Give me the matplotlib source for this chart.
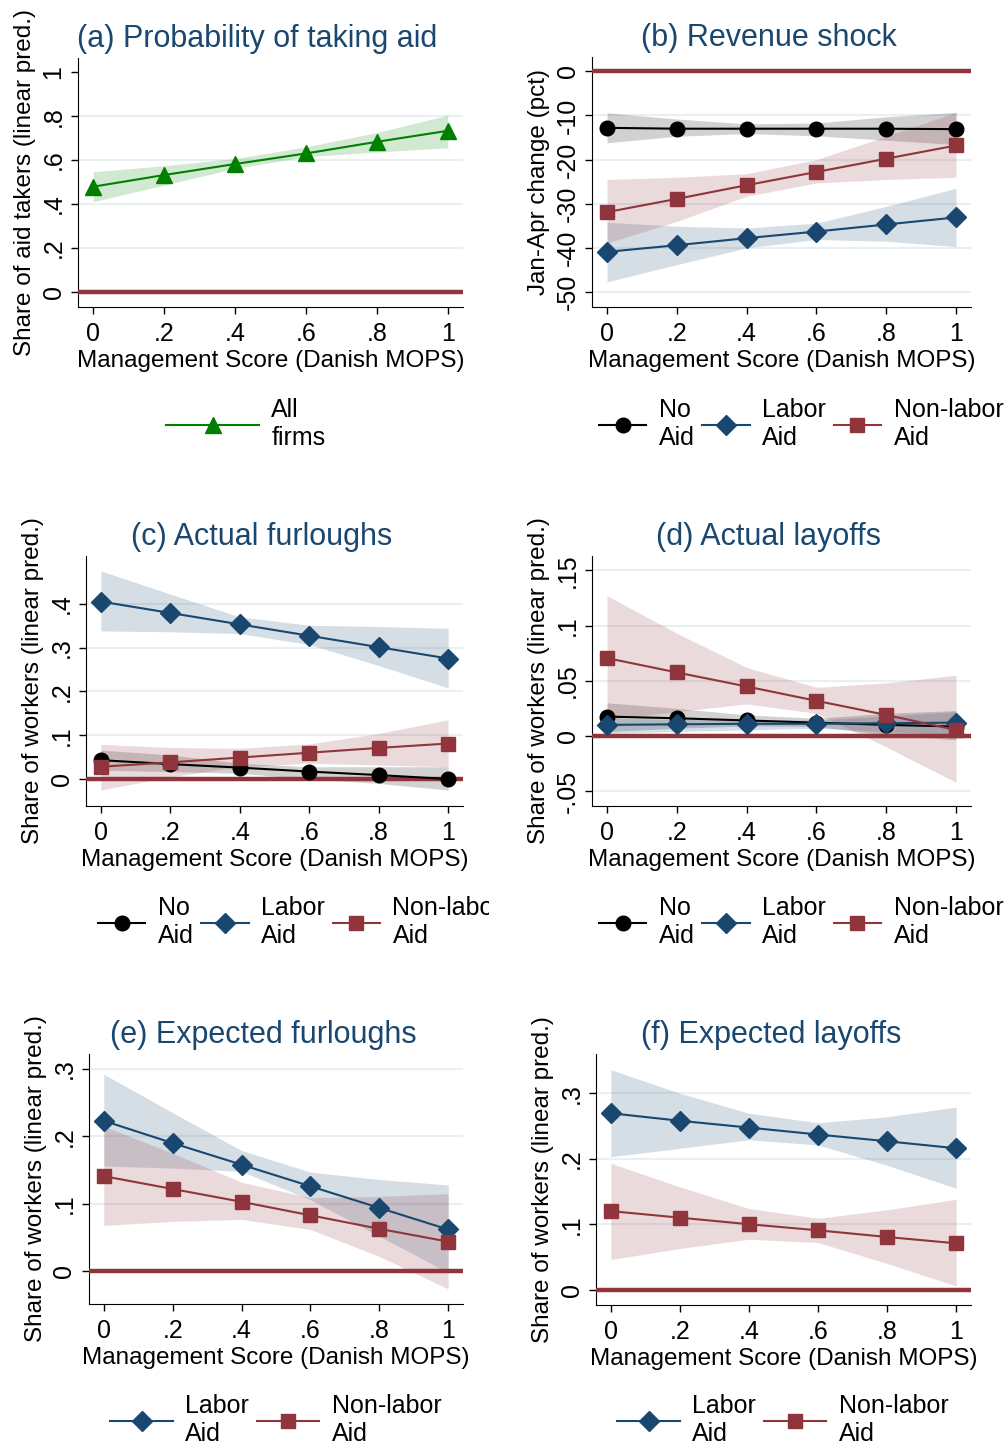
import matplotlib
matplotlib.use("Agg")
import matplotlib.pyplot as plt
from matplotlib.transforms import Bbox, TransformedBbox

plt.rcParams['font.family'] = ['Liberation Sans', 'DejaVu Sans']

# === DATOS ===
score = [0, .2, .4, .6, .8, 1]
score_labels = ["0", ".2", ".4", ".6", ".8", "1"]

# (a) Probability of taking aid
a_all = [0.479, 0.532, 0.582, 0.630, 0.683, 0.733]
a_all_lo = [0.411, 0.486, 0.562, 0.615, 0.637, 0.656]
a_all_hi = [0.547, 0.574, 0.607, 0.660, 0.725, 0.804]

# (b) Revenue shock
b_no = [-12.8, -13.0, -13.0, -13.0, -13.0, -13.1]
b_no_lo = [-16.2, -14.7, -14.1, -14.6, -15.6, -16.6]
b_no_hi = [-9.4, -10.8, -11.9, -11.7, -10.3, -9.3]
b_lab = [-40.9, -39.4, -37.8, -36.3, -34.7, -33.1]
b_lab_lo = [-47.7, -43.8, -40.0, -38.1, -38.5, -39.7]
b_lab_hi = [-34.2, -35.1, -35.5, -34.4, -30.6, -26.5]
b_non = [-31.9, -28.9, -25.8, -22.8, -19.8, -16.8]
b_non_lo = [-38.9, -34.0, -28.3, -25.3, -24.5, -24.0]
b_non_hi = [-24.5, -24.0, -23.2, -20.0, -14.7, -9.3]

# (c) Actual furloughs
c_no = [0.043, 0.034, 0.026, 0.017, 0.009, 0.000]
c_no_lo = [0.020, 0.017, 0.013, 0.000, -0.010, -0.025]
c_no_hi = [0.066, 0.055, 0.036, 0.028, 0.028, 0.028]
c_lab = [0.405, 0.379, 0.353, 0.327, 0.301, 0.275]
c_lab_lo = [0.338, 0.336, 0.332, 0.307, 0.259, 0.208]
c_lab_hi = [0.475, 0.422, 0.370, 0.351, 0.348, 0.344]
c_non = [0.028, 0.038, 0.049, 0.060, 0.071, 0.081]
c_non_lo = [-0.025, 0.005, 0.028, 0.036, 0.032, 0.028]
c_non_hi = [0.079, 0.072, 0.070, 0.080, 0.104, 0.135]

# (d) Actual layoffs
d_no = [0.0175, 0.016, 0.014, 0.012, 0.010, 0.0085]
d_no_lo = [0.004, 0.007, 0.009, 0.0085, 0.001, -0.0036]
d_no_hi = [0.030, 0.025, 0.019, 0.016, 0.0205, 0.023]
d_lab = [0.010, 0.0105, 0.011, 0.011, 0.0115, 0.012]
d_lab_lo = [0.0024, 0.004, 0.0055, 0.007, 0.004, 0.001]
d_lab_hi = [0.016, 0.015, 0.0145, 0.0145, 0.018, 0.022]
d_non = [0.0705, 0.0575, 0.0448, 0.0318, 0.019, 0.0054]
d_non_lo = [0.0145, 0.022, 0.029, 0.0205, -0.010, -0.042]
d_non_hi = [0.127, 0.093, 0.062, 0.044, 0.048, 0.055]

# (e) Expected furloughs
e_lab = [0.223, 0.190, 0.158, 0.126, 0.094, 0.062]
e_lab_lo = [0.156, 0.153, 0.148, 0.106, 0.052, -0.002]
e_lab_hi = [0.292, 0.235, 0.179, 0.147, 0.136, 0.128]
e_non = [0.141, 0.122, 0.103, 0.083, 0.063, 0.044]
e_non_lo = [0.068, 0.074, 0.077, 0.062, 0.022, -0.026]
e_non_hi = [0.215, 0.175, 0.132, 0.109, 0.111, 0.115]

# (f) Expected layoffs
f_lab = [0.2695, 0.258, 0.2476, 0.237, 0.2267, 0.216]
f_lab_lo = [0.203, 0.216, 0.229, 0.221, 0.190, 0.155]
f_lab_hi = [0.336, 0.300, 0.2695, 0.255, 0.264, 0.279]
f_non = [0.120, 0.110, 0.100, 0.0907, 0.0805, 0.0708]
f_non_lo = [0.046, 0.063, 0.077, 0.072, 0.040, 0.0056]
f_non_hi = [0.193, 0.157, 0.124, 0.109, 0.122, 0.138]

# === ESTILO ===
NAVY = '#1a476f'
RED = '#90353b'
GREEN = '#008000'
BLACK = '#000000'
GRID = '#e8f0f2'
FS = 18
FS_LAB = 17.5
FS_TITLE = 22

W, H = 1006, 1444
fig = plt.figure(figsize=(W / 100, H / 100), dpi=100)


def make_ax(left, right, top, bottom):
    return fig.add_axes([left / W, 1 - bottom / H, (right - left) / W, (bottom - top) / H])


def serie(ax, y, lo, hi, color, marker, ms, label):
    ax.fill_between(score, lo, hi, color=color, alpha=0.18, lw=0, zorder=2)
    ax.plot(score, y, color=color, marker=marker, ms=ms, lw=1.5, label=label, zorder=4)


def panel(ax, title, ylabel, yticks, ylabels, ylim, grid_ticks):
    for g in grid_ticks:
        ax.axhline(g, color=GRID, lw=1.5, zorder=1)
    ax.axhline(0, color=RED, lw=3.2, zorder=3)
    ax.set_xlim(-0.043, 1.043)
    ax.set_ylim(*ylim)
    ax.set_xticks(score)
    ax.set_xticklabels(score_labels, fontsize=FS)
    ax.set_yticks(yticks)
    ax.set_yticklabels(ylabels, fontsize=FS, rotation=90, va='center')
    ax.tick_params(length=5, width=1)
    ax.tick_params(axis='x', pad=6)
    ax.tick_params(axis='y', pad=4)
    ax.spines['top'].set_visible(False)
    ax.spines['right'].set_visible(False)
    ax.set_xlabel('Management Score (Danish MOPS)', fontsize=FS_LAB, labelpad=3)
    ax.set_ylabel(ylabel, fontsize=FS_LAB, labelpad=4)
    # el titulo va un poco a la izquierda del centro del eje, como en Stata
    ax.set_title(title, fontsize=FS_TITLE, color=NAVY, pad=8, x=0.466)


def leyenda(ax, cx, cy, hl=1.9, clip_x=None):
    leg = ax.legend(loc='center', bbox_to_anchor=(cx / W, 1 - cy / H), bbox_transform=fig.transFigure,
                    ncol=3, frameon=False, fontsize=FS, handlelength=hl, handletextpad=0.5,
                    columnspacing=0.3, borderaxespad=0)
    if clip_x is not None:
        caja = TransformedBbox(Bbox([[0, 0], [clip_x / W, 1]]), fig.transFigure)
        for t in leg.get_texts():
            t.set_clip_box(caja)
            t.set_clip_on(True)
    return leg


# === (a) ===
ax = make_ax(78, 463, 58, 307)
serie(ax, a_all, a_all_lo, a_all_hi, GREEN, '^', 11, 'All\nfirms')
panel(ax, '(a) Probability of taking aid', 'Share of aid takers (linear pred.)',
      [0, .2, .4, .6, .8, 1], ['0', '.2', '.4', '.6', '.8', '1'], (-0.068, 1.064),
      [.2, .4, .6, .8])
leyenda(ax, 246, 424, hl=3.7)

# === (b) ===
ax = make_ax(592, 971, 57, 307)
serie(ax, b_no, b_no_lo, b_no_hi, BLACK, 'o', 10.5, 'No\nAid')
serie(ax, b_lab, b_lab_lo, b_lab_hi, NAVY, 'D', 10, 'Labor\nAid')
serie(ax, b_non, b_non_lo, b_non_hi, RED, 's', 9.5, 'Non-labor\nAid')
panel(ax, '(b) Revenue shock', 'Jan-Apr change (pct)',
      [0, -10, -20, -30, -40, -50], ['0', '-10', '-20', '-30', '-40', '-50'], (-53.4, 3.25),
      [-10, -20, -30, -40, -50])
leyenda(ax, 801, 424)

# === (c) ===
ax = make_ax(86, 463, 556, 806)
serie(ax, c_no, c_no_lo, c_no_hi, BLACK, 'o', 10.5, 'No\nAid')
serie(ax, c_lab, c_lab_lo, c_lab_hi, NAVY, 'D', 10, 'Labor\nAid')
serie(ax, c_non, c_non_lo, c_non_hi, RED, 's', 9.5, 'Non-labor\nAid')
panel(ax, '(c) Actual furloughs', 'Share of workers (linear pred.)',
      [0, .1, .2, .3, .4], ['0', '.1', '.2', '.3', '.4'], (-0.0616, 0.509),
      [.1, .2, .3, .4])
leyenda(ax, 300, 922, clip_x=489)

# === (d) ===
ax = make_ax(592, 971, 556, 806)
serie(ax, d_no, d_no_lo, d_no_hi, BLACK, 'o', 10.5, 'No\nAid')
serie(ax, d_lab, d_lab_lo, d_lab_hi, NAVY, 'D', 10, 'Labor\nAid')
serie(ax, d_non, d_non_lo, d_non_hi, RED, 's', 9.5, 'Non-labor\nAid')
panel(ax, '(d) Actual layoffs', 'Share of workers (linear pred.)',
      [-.05, 0, .05, .1, .15], ['-.05', '0', '.05', '.1', '.15'], (-0.0635, 0.163),
      [-.05, .05, .1, .15])
leyenda(ax, 801, 922)

# === (e) ===
ax = make_ax(89, 463, 1054, 1304)
serie(ax, e_lab, e_lab_lo, e_lab_hi, NAVY, 'D', 10, 'Labor\nAid')
serie(ax, e_non, e_non_lo, e_non_hi, RED, 's', 9.5, 'Non-labor\nAid')
panel(ax, '(e) Expected furloughs', 'Share of workers (linear pred.)',
      [0, .1, .2, .3], ['0', '.1', '.2', '.3'], (-0.0484, 0.322),
      [.1, .2, .3])
leyenda(ax, 276, 1420, hl=2.5)

# === (f) ===
ax = make_ax(596, 971, 1054, 1305)
serie(ax, f_lab, f_lab_lo, f_lab_hi, NAVY, 'D', 10, 'Labor\nAid')
serie(ax, f_non, f_non_lo, f_non_hi, RED, 's', 9.5, 'Non-labor\nAid')
panel(ax, '(f) Expected layoffs', 'Share of workers (linear pred.)',
      [0, .1, .2, .3], ['0', '.1', '.2', '.3'], (-0.0234, 0.36),
      [.1, .2, .3])
leyenda(ax, 783, 1420, hl=2.5)

plt.savefig('out.png', dpi=100)
